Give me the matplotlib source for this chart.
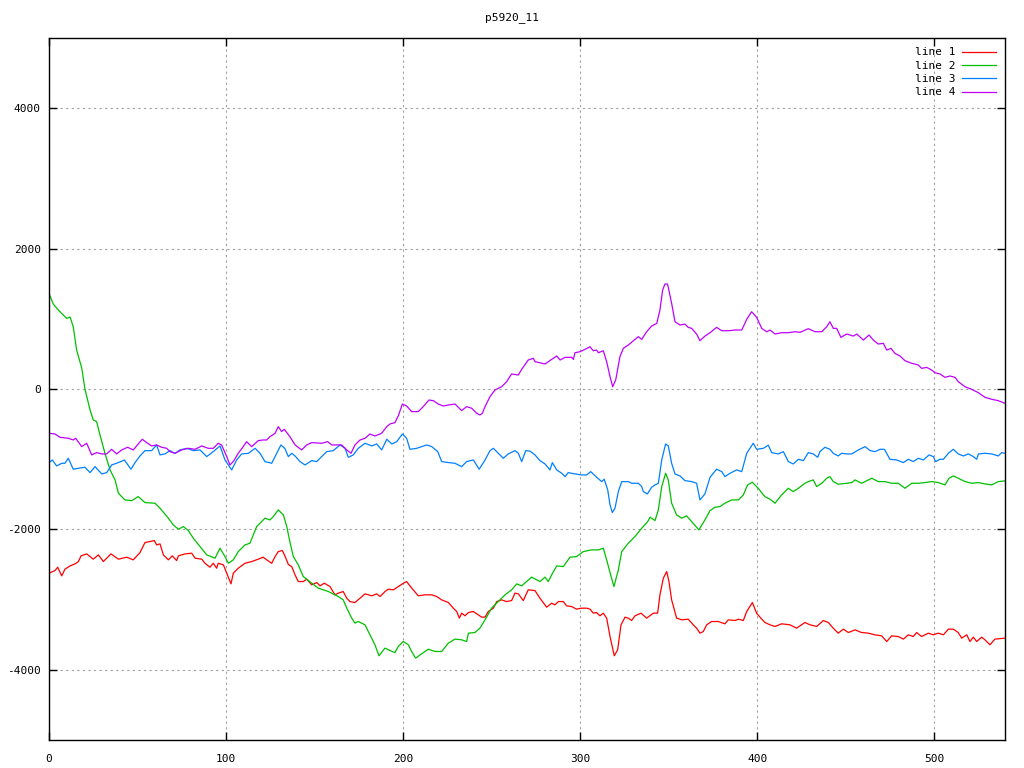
import matplotlib
matplotlib.use("Agg")
import matplotlib.pyplot as plt

title = "p5920_11"
labels = ["line 1", "line 2", "line 3", "line 4"]
colors = ["#ff0000", "#00c000", "#0080ff", "#c000ff"]
xticks = [0, 100, 200, 300, 400, 500]
yticks = [-4000, -2000, 0, 2000, 4000]

line1_x = [0, 3.4, 4.9, 7.2, 9, 11.9, 14.7, 16.6, 18.1, 21.3, 25, 27.9, 30.7, 35, 39.2, 43.9, 47.6, 51.4, 54.2, 57, 59.5, 60.8, 62.7, 64.6, 67.4, 69.6, 72.1, 73.1, 76.8, 80.6, 82.5, 86.3, 88.1, 90.9, 92.8, 94.7, 95.6, 98.5, 100.4, 102.8, 104.1, 106.9, 110.7, 114.5, 118.2, 121, 123, 125.8, 127.7, 129.5, 131.8, 133.3, 135.2, 137.1, 139, 140.8, 143.6, 145.6, 148.4, 151.2, 153.1, 155.5, 158.7, 161.5, 163.4, 166.2, 168.2, 170, 172.8, 175.7, 178.5, 182.3, 185.1, 187, 189.8, 191.7, 194.5, 197.3, 199.6, 202, 204.9, 208.6, 212.4, 216.2, 219, 221.8, 225.6, 228.4, 230.3, 231.8, 233.1, 235, 236.9, 239.7, 242.5, 244.4, 246.3, 248.1, 251, 252.9, 255.7, 258.5, 261.3, 263.2, 265.1, 267.9, 270.7, 274.5, 277.3, 281.1, 283.9, 285.8, 287.7, 290.5, 292.4, 295.2, 298, 300.9, 303.7, 305.6, 307.4, 309.3, 311.2, 313.1, 315, 316.9, 319.3, 321.2, 323.1, 325.4, 327.2, 329.1, 331, 334.4, 337.6, 341.4, 343.8, 345.1, 347, 348.9, 350.2, 351.7, 354.5, 357.4, 361.1, 363.9, 365.8, 367.7, 369.6, 371.5, 374.3, 378, 381.8, 383.7, 387.5, 389.4, 392.2, 394.1, 397.3, 399.7, 402.6, 404.4, 407.3, 410.1, 413.8, 418.5, 422.3, 427, 429.8, 433.6, 437.4, 440.2, 443, 445.8, 448.7, 451.5, 455.3, 459, 462.8, 466.6, 470.3, 473.2, 476, 479.7, 482.6, 485.4, 488.2, 490.1, 492.9, 496.7, 499.5, 502.3, 505.2, 508, 510.8, 513.6, 515.5, 518.4, 520.2, 522.1, 524, 526.8, 528.7, 531.5, 534.3, 540]
line1_y = [-2624, -2586, -2539, -2662, -2567, -2520, -2491, -2458, -2377, -2349, -2424, -2363, -2458, -2349, -2424, -2396, -2434, -2330, -2188, -2173, -2159, -2221, -2206, -2363, -2434, -2377, -2444, -2377, -2349, -2339, -2410, -2424, -2482, -2539, -2482, -2553, -2482, -2505, -2624, -2776, -2624, -2553, -2482, -2458, -2424, -2396, -2434, -2482, -2387, -2316, -2301, -2380, -2500, -2530, -2648, -2743, -2743, -2709, -2790, -2757, -2804, -2766, -2814, -2932, -2908, -2885, -2980, -3028, -3042, -2980, -2918, -2946, -2918, -2956, -2885, -2851, -2861, -2814, -2776, -2743, -2837, -2946, -2932, -2932, -2956, -3004, -3042, -3122, -3170, -3264, -3193, -3231, -3184, -3170, -3217, -3250, -3250, -3170, -3122, -3028, -3004, -3028, -3014, -2908, -2918, -3014, -2861, -2871, -2980, -3108, -3051, -3075, -3028, -3028, -3089, -3099, -3136, -3122, -3122, -3136, -3193, -3184, -3231, -3193, -3264, -3526, -3800, -3715, -3359, -3250, -3264, -3298, -3231, -3193, -3264, -3193, -3193, -2932, -2695, -2600, -2743, -3004, -3264, -3288, -3279, -3359, -3407, -3478, -3454, -3359, -3312, -3312, -3345, -3288, -3298, -3279, -3298, -3170, -3042, -3193, -3279, -3326, -3360, -3383, -3345, -3359, -3407, -3326, -3359, -3383, -3298, -3326, -3407, -3478, -3421, -3469, -3431, -3469, -3478, -3502, -3516, -3597, -3516, -3526, -3563, -3502, -3526, -3469, -3526, -3478, -3502, -3478, -3502, -3421, -3421, -3469, -3549, -3502, -3597, -3535, -3597, -3535, -3573, -3644, -3563, -3549]

line2_x = [0, 2.4, 6.2, 10, 11.9, 13.7, 15.6, 18.5, 20.3, 23.2, 25, 26.9, 28.8, 31.6, 34.5, 37.3, 39.2, 42.9, 46.7, 50.4, 54.2, 59.9, 62.7, 67.4, 70.2, 73.1, 75.9, 78.7, 81.5, 85.3, 89.1, 93.8, 96.6, 99.4, 101.3, 104.1, 106.9, 110.7, 113.5, 117.3, 122, 124.8, 126.7, 129.5, 132.4, 134.3, 136.1, 138, 140.8, 143.6, 148.4, 152.1, 157.8, 163.4, 166.2, 168.2, 171, 172.8, 174.7, 178.5, 181.3, 184.1, 186.4, 189.8, 192.6, 195.4, 197.3, 200.1, 203, 204.8, 207.1, 210.5, 214.3, 218, 221.8, 225.6, 229.3, 233.1, 235.9, 236.9, 240.6, 243.4, 246.3, 250, 253.8, 257.6, 261.3, 264.2, 267, 272.6, 277.3, 280.2, 282, 283.9, 286.8, 290.5, 294.3, 298, 301.8, 306.5, 310.3, 313.1, 315, 317.5, 319.1, 321.6, 323.5, 327.2, 331, 334.8, 338.2, 339.5, 342.3, 344.2, 346.1, 348.3, 349.8, 351.7, 354.5, 357.4, 360.2, 363, 367.1, 370.5, 373.4, 376.2, 379, 381.8, 385.6, 389.4, 392.2, 394.6, 397.3, 400.6, 404.4, 407.3, 410.1, 413.8, 417.6, 420.4, 423.3, 427, 428.9, 431.7, 433.6, 436.5, 439.3, 441.1, 443, 445.8, 450.6, 453.4, 455.3, 459, 464.7, 468.4, 472.2, 476, 479.7, 483.5, 487.3, 491, 494.8, 498.6, 502.3, 506.1, 508.4, 510.8, 513.6, 517.4, 521.2, 524.9, 528.7, 532.5, 536.2, 540]
line2_y = [1360, 1210, 1100, 1006, 1025, 887, 555, 299, 0, -299, -441, -465, -655, -915, -1153, -1295, -1485, -1580, -1590, -1533, -1618, -1627, -1698, -1840, -1936, -1997, -1960, -2017, -2125, -2245, -2363, -2410, -2268, -2387, -2482, -2434, -2316, -2221, -2197, -1960, -1840, -1865, -1818, -1722, -1794, -1960, -2180, -2387, -2505, -2671, -2766, -2837, -2885, -2956, -3004, -3122, -3264, -3335, -3312, -3359, -3502, -3644, -3800, -3691, -3725, -3754, -3668, -3597, -3644, -3739, -3834, -3772, -3706, -3739, -3739, -3620, -3563, -3573, -3597, -3478, -3469, -3407, -3288, -3122, -3028, -2932, -2861, -2776, -2804, -2680, -2743, -2680, -2743, -2648, -2520, -2530, -2396, -2387, -2316, -2292, -2292, -2268, -2434, -2671, -2814, -2577, -2316, -2197, -2102, -1983, -1889, -1826, -1874, -1722, -1390, -1200, -1295, -1627, -1794, -1840, -1808, -1889, -2007, -1865, -1732, -1684, -1675, -1627, -1580, -1580, -1509, -1366, -1328, -1414, -1535, -1570, -1627, -1509, -1414, -1461, -1414, -1343, -1319, -1295, -1390, -1343, -1271, -1248, -1319, -1357, -1343, -1333, -1295, -1343, -1271, -1319, -1319, -1343, -1343, -1414, -1343, -1343, -1333, -1319, -1333, -1366, -1271, -1238, -1271, -1319, -1343, -1333, -1352, -1366, -1319, -1309]

line3_x = [0, 1.9, 4.3, 7.2, 9, 10.9, 13.7, 16.6, 20.3, 23.2, 26, 29.8, 32.6, 35.4, 39.2, 42.6, 46.3, 48.6, 51.4, 54.2, 58, 60.8, 62.7, 65.5, 68.3, 71.2, 74, 77.8, 81.5, 85.3, 89.1, 92.8, 96.6, 99.4, 103.2, 106, 108.8, 112.6, 116.4, 119.2, 122, 125.8, 128.6, 131, 133.3, 135.2, 137.1, 139, 141.8, 144.6, 148.4, 151.2, 154, 156.9, 160.6, 164.4, 167.2, 169.1, 171.9, 174.7, 178.5, 182.3, 185.1, 187.9, 190.8, 193.6, 196.4, 199.6, 202, 203.9, 207.7, 210.5, 213.3, 216.2, 219.6, 221.8, 225.6, 229.3, 233.1, 235.9, 239.7, 243, 246.3, 249.1, 251, 253.8, 256.6, 259.4, 263.2, 265.1, 267, 269.3, 271.7, 274.5, 277.3, 280.2, 283, 284.3, 286.8, 289.6, 291.5, 293.3, 297.1, 300.9, 303.7, 306, 309.3, 312.2, 313.6, 315.6, 316.9, 318.2, 319.7, 321.6, 323.5, 327.2, 329.1, 332.9, 334.8, 335.7, 338, 340.4, 342.3, 344.2, 346.1, 348.3, 349.8, 351.7, 353.6, 356.4, 359.2, 363, 365.8, 367.7, 370.5, 373.4, 377.1, 380, 381.8, 384.7, 388.4, 391.3, 394.1, 397.8, 399.7, 403.5, 406.3, 408.2, 411.9, 414.8, 417.6, 420.4, 423.3, 426.1, 428.9, 431.7, 434.2, 435.5, 438.3, 441.1, 443, 445.8, 447.7, 450.6, 453.4, 457.2, 461, 463.8, 466.6, 469.4, 471.9, 475, 478.8, 482.6, 485.4, 488.2, 491, 493.9, 497.1, 499.5, 500.8, 503.3, 505.2, 508, 510.8, 513.6, 516.5, 519.3, 522.1, 524, 525, 528.7, 532.5, 536.2, 538.1, 540]
line3_y = [-1048, -1011, -1096, -1058, -1058, -987, -1143, -1129, -1115, -1191, -1106, -1210, -1191, -1082, -1048, -1011, -1143, -1048, -954, -878, -878, -797, -939, -925, -878, -916, -868, -845, -878, -868, -963, -892, -811, -1011, -1153, -1011, -925, -916, -845, -916, -1034, -1058, -916, -797, -850, -963, -916, -954, -1034, -1082, -1020, -1034, -963, -892, -878, -797, -845, -973, -939, -845, -773, -811, -783, -868, -716, -783, -750, -641, -702, -859, -845, -821, -797, -821, -892, -1034, -1048, -1058, -1106, -1034, -1011, -1143, -1011, -878, -845, -916, -987, -925, -878, -916, -1034, -878, -885, -939, -1020, -1068, -1153, -1048, -1153, -1200, -1248, -1191, -1210, -1224, -1224, -1177, -1257, -1319, -1285, -1438, -1651, -1760, -1698, -1461, -1319, -1319, -1343, -1343, -1390, -1461, -1495, -1400, -1366, -1343, -1011, -783, -811, -1058, -1210, -1238, -1305, -1319, -1343, -1580, -1495, -1257, -1143, -1177, -1248, -1200, -1153, -1177, -916, -773, -859, -845, -800, -906, -925, -892, -1034, -1068, -1001, -1020, -906, -925, -973, -892, -830, -859, -916, -954, -916, -925, -925, -868, -821, -878, -892, -859, -859, -1001, -1011, -1048, -1001, -1034, -987, -1011, -939, -963, -1034, -1001, -1001, -916, -859, -925, -954, -925, -963, -1001, -925, -916, -925, -954, -906, -916]

line4_x = [0, 3.4, 6.2, 10.9, 13.7, 15.1, 18.5, 21.3, 24.1, 26.9, 29.8, 32.6, 35.4, 38.2, 41.1, 44.4, 47.6, 50.4, 52.7, 55.2, 58, 60.8, 63.6, 66.5, 68.3, 71.2, 74.9, 78.7, 82.5, 86.3, 90, 92.8, 95.6, 97.5, 100.4, 102.2, 104.1, 106.9, 109.7, 111.6, 114.5, 118.2, 121, 123, 124.8, 127.7, 129.5, 131.4, 132.9, 136.1, 139, 142.7, 145.6, 148.4, 154, 157.4, 159.7, 162.5, 165.3, 168.2, 170.6, 172.8, 175.7, 178.5, 181.3, 184.1, 187.9, 190.8, 192.6, 195.4, 197.3, 199.6, 202, 204.9, 208.6, 211.4, 214.6, 217.1, 219.9, 222.7, 225.6, 229.3, 233.1, 235.9, 238.8, 241.6, 243.4, 244.8, 246.3, 249.1, 251.9, 255.7, 258.5, 261.3, 265.1, 267, 270.7, 273.6, 274.5, 277.3, 280.2, 283.9, 286.8, 288.7, 291.5, 295.2, 296.2, 297.1, 299.9, 302.8, 305.6, 307.4, 309.3, 310.3, 313.1, 315, 316.9, 318.4, 320.1, 322.5, 324.4, 327.2, 330.1, 332.9, 334.8, 337.6, 340.4, 343.3, 345.1, 346.6, 347.9, 349.4, 351.7, 353.6, 356.4, 359.2, 361.1, 363, 365.8, 367.7, 370.5, 373.4, 377.1, 380, 383.7, 387.5, 391.3, 394.1, 396.9, 399.7, 402.6, 405.4, 407.3, 410.1, 413.8, 417.6, 421.4, 424.2, 428.9, 432.7, 436.5, 439.3, 441.1, 443, 444.9, 447.3, 450.6, 454.3, 456.3, 460, 463.2, 465.6, 468.4, 471.3, 473.2, 475.6, 477.8, 480.7, 483.5, 487.3, 491, 492.9, 495.8, 498.6, 500.5, 503.3, 506.1, 508.9, 511.8, 513.6, 517.4, 521.2, 524.9, 528.7, 532.5, 536.2, 540]
line4_y = [-631, -641, -688, -702, -726, -702, -821, -773, -939, -906, -925, -925, -859, -925, -868, -830, -868, -783, -716, -764, -811, -797, -830, -845, -892, -916, -868, -845, -859, -811, -845, -845, -773, -797, -963, -1082, -1034, -916, -821, -750, -821, -735, -726, -726, -678, -631, -536, -607, -574, -680, -797, -868, -797, -764, -773, -750, -797, -797, -797, -868, -916, -797, -726, -702, -641, -669, -631, -536, -498, -479, -384, -214, -242, -322, -322, -251, -157, -166, -214, -242, -228, -214, -308, -251, -275, -346, -370, -346, -251, -109, -14, 33, 104, 214, 199, 280, 413, 437, 389, 374, 356, 422, 470, 413, 451, 451, 422, 517, 531, 565, 602, 545, 555, 517, 545, 389, 175, 33, 128, 460, 579, 626, 688, 745, 707, 816, 897, 935, 1125, 1409, 1495, 1495, 1220, 958, 911, 925, 878, 864, 783, 688, 754, 802, 878, 830, 830, 840, 840, 992, 1101, 1020, 864, 815, 840, 783, 802, 802, 816, 807, 859, 816, 816, 887, 958, 864, 864, 736, 783, 754, 783, 697, 769, 697, 641, 650, 555, 579, 508, 470, 403, 366, 342, 294, 308, 270, 232, 214, 166, 185, 166, 104, 33, -5, -52, -119, -147, -166, -204]

series_x = [line1_x, line2_x, line3_x, line4_x]
series_y = [line1_y, line2_y, line3_y, line4_y]

font = "DejaVu Sans Mono"
fig = plt.figure(figsize=(10.24, 7.68), dpi=100)
ax = fig.add_axes([49 / 1024, 1 - 740 / 768, (1005 - 49) / 1024, (740 - 38) / 768])

for xs, ys, lab, col in zip(series_x, series_y, labels, colors):
    ax.plot(xs, ys, color=col, lw=0.9, label=lab)

ax.set_xlim(0, 540)
ax.set_ylim(-5000, 5000)
ax.set_xticks(xticks)
ax.set_yticks(yticks)
ax.set_xticklabels([str(v) for v in xticks], fontfamily=font, fontsize=8)
ax.set_yticklabels([str(v) for v in yticks], fontfamily=font, fontsize=8)
ax.tick_params(direction="in", length=6, width=1, top=True, right=True)
ax.tick_params(axis="x", pad=10)
ax.tick_params(axis="y", pad=6)
ax.grid(True, color="#a0a0a0", linestyle=(0, (2, 3)), linewidth=0.8)
for s in ax.spines.values():
    s.set_linewidth(1)

leg = ax.legend(loc="upper right", frameon=False, markerfirst=False,
                prop={"family": font, "size": 8}, handlelength=3.0,
                handletextpad=0.6, labelspacing=0.3, borderaxespad=0.45)
for t in leg.get_texts():
    t.set_ha("right")

fig.text(0.5, 1 - 18 / 768, title, ha="center", va="center", fontfamily=font, fontsize=8)

fig.savefig("out.png", dpi=100)
